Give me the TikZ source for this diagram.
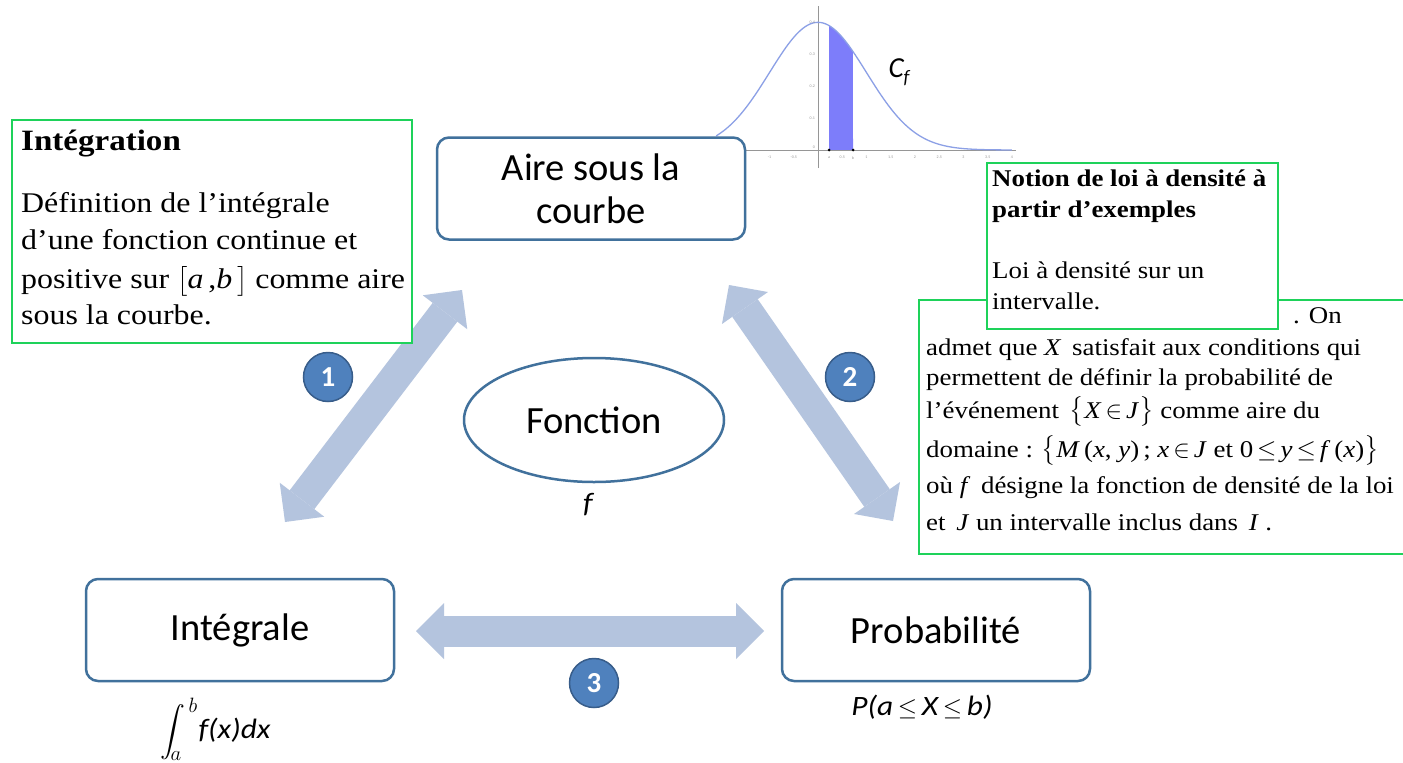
\documentclass[tikz,border=0pt]{standalone}
\usepackage{amsmath}
\usepackage{fontspec}
\setmainfont{Liberation Serif}
\newfontfamily\serifw[FakeStretch=1.12]{Liberation Serif}
\newfontfamily\calib{Carlito}
\newfontfamily\calibw[FakeStretch=1.12]{Carlito}
\usetikzlibrary{arrows.meta,shapes.geometric}
\definecolor{boxblue}{RGB}{65,113,156}
\definecolor{grn}{RGB}{30,210,90}
\definecolor{arrowblue}{RGB}{180,196,222}
\definecolor{numfill}{RGB}{79,129,189}
\definecolor{numdraw}{RGB}{56,93,138}
\definecolor{curveblue}{RGB}{140,160,230}
\definecolor{areablue}{RGB}{125,125,250}
\definecolor{axgray}{RGB}{150,150,150}
\begin{document}
\begin{tikzpicture}[x=1pt,y=-1pt,
  mainbox/.style={draw=boxblue, line width=2.5pt, rounded corners=12pt, fill=white,
    minimum width=308pt, minimum height=102pt, inner sep=0pt, align=center,
    font=\calib\fontsize{38.5}{43}\selectfont},
  gbox/.style={draw=grn, line width=1.6pt, fill=white, inner sep=0pt, anchor=north west},
  bigline/.style={arrowblue, line width=31pt,
    {Triangle[width=56pt,length=28pt,line width=0pt]}-{Triangle[width=56pt,length=28pt,line width=0pt]}},
  numc/.style={circle, fill=numfill, draw=numdraw, line width=1.5pt, minimum size=49pt,
    inner sep=0pt, text=white, font=\calib\bfseries\fontsize{29}{29}\selectfont},
  lbl/.style={anchor=base west, inner sep=0pt, font=\serifw\fontsize{28.5}{34}\selectfont},
  rtxt/.style={anchor=base west, inner sep=0pt, font=\serifw\fontsize{24}{30}\selectfont},
  mlbl/.style={inner sep=0pt, font=\calibw\itshape\fontsize{28}{30}\selectfont},
  tick/.style={inner sep=0pt, text=axgray, font=\calib\fontsize{4}{4}\selectfont}
]
\clip (0,0) rectangle (1403,763);
\fill[white] (0,0) rectangle (1403,763);

% ---- normal density plot ----
\fill[areablue] (829,150) -- plot[domain=0.23:0.72, samples=30]
  ({818+48.5*\x},{150-320*0.398942*exp(-\x*\x/2)}) -- (853,150) -- cycle;
\draw[axgray, line width=0.6pt] (745,150) -- (1016,150);
\draw[axgray, line width=0.6pt] (818,168) -- (818,6);
\draw[curveblue, line width=1.3pt] plot[domain=-2.1:4, samples=120]
  ({818+48.5*\x},{150-320*0.398942*exp(-\x*\x/2)});
\foreach \v/\t in {-1/-1,-0.5/-0.5,0.5/0.5,1/1,1.5/1.5,2/2,2.5/2.5,3/3,3.5/3.5,4/4}
  \node[tick] (tx\t) at ({818+48.5*\v},157) {\t};
\foreach \v/\t in {0.1/0.1,0.2/0.2,0.3/0.3,0.4/0.4}
  \node[tick, anchor=east] (ty\t) at (815,{150-320*\v}) {\t};
\node[tick, anchor=east] (ty0) at (815,147) {0};
\fill[black] (829,150) circle (1.5pt) (853,150) circle (1.5pt);
\node[tick] (pa) at (829,158) {a};
\node[tick] (pb) at (853,158) {b};
\node[inner sep=0pt, font=\calib\itshape\fontsize{29}{29}\selectfont] (cf) at (899,72)
  {C\raisebox{-6pt}{\fontsize{19}{19}\selectfont f}};

% ---- main nodes ----
\node[mainbox] (aire) at (591,188.5) {Aire sous la\\courbe};
\node[mainbox] (integ) at (240,630) {Intégrale};
\node[mainbox] (proba) at (936,630) {Probabilité};
\node[ellipse, draw=boxblue, line width=2.5pt, minimum width=260pt, minimum height=124pt,
  inner sep=0pt, font=\calib\fontsize{38.5}{43}\selectfont] (fonc) at (594,420) {Fonction};
\node[mlbl] (fl) at (588,505) {f};
\node[mlbl, anchor=base west, font=\calibw\itshape\fontsize{28}{30}\selectfont] (intl) at (160,738)
  {$\displaystyle\int_{\!a}^{\,b}$\kern1pt f(x)dx};
\node[mlbl] (pl) at (922,707) {P(a\,$\leq$\,X\,$\leq$\,b)};

% ---- big arrows ----
\coordinate (a1s) at (285,522);
\coordinate (a1e) at (462,290);
\coordinate (a2s) at (729,285);
\coordinate (a2e) at (893,521);
\coordinate (a3s) at (416,631);
\coordinate (a3e) at (764,631);
\draw[bigline] (a1s) -- (a1e);
\draw[bigline] (a2s) -- (a2e);
\draw[bigline] (a3s) -- (a3e);

\node[numc] (n1) at (328,377) {1};
\node[numc] (n2) at (850,377) {2};
\node[numc] (n3) at (594,683) {3};

% ---- left green box ----
\node[gbox, minimum width=400pt, minimum height=223pt] (ibox) at (11,119) {};
\node[lbl, font=\serifw\bfseries\fontsize{29.5}{34}\selectfont] (i0) at (21,150) {Intégration};
\node[lbl] (i1) at (21,212) {Définition de l’intégrale};
\node[lbl] (i2) at (21,249) {d’une fonction continue et};
\node[lbl] (i3) at (21,288) {positive sur $\bigl[$\textit{a}\,,\textit{b}\,$\bigr]$ comme aire};
\node[lbl] (i4) at (21,324) {sous la courbe.};

% ---- right lower green box ----
\node[gbox, minimum width=500pt, minimum height=254pt] (dbox) at (918,299) {};
\node[rtxt] (d0) at (1293,323) {. On};
\node[rtxt] (d1) at (926,355) {admet que \textit{X}\, satisfait aux conditions qui};
\node[rtxt] (d2) at (926,385) {permettent de définir la probabilité de};
\node[rtxt] (d3) at (926,418) {l’événement \,$\bigl\{$\textit{X}\,$\in$\,\textit{J}$\bigr\}$ comme aire du};
\node[rtxt] (d4) at (926,457) {domaine : $\bigl\{$\textit{M}\,(\textit{x}, \textit{y})\,; \textit{x}\,$\in$\,\textit{J} et 0\,$\leq$\,\textit{y}\,$\leq$\,\textit{f}\,(\textit{x})$\bigr\}$};
\node[rtxt] (d5) at (926,493) {où \textit{f}\, désigne la fonction de densité de la loi};
\node[rtxt] (d6) at (926,530) {et \,\textit{J} un intervalle inclus dans \,\textit{I} .};

% ---- right upper green box ----
\node[gbox, minimum width=291pt, minimum height=166pt] (nbox) at (986,162) {};
\node[rtxt, font=\serifw\bfseries\fontsize{24}{30}\selectfont] (nb1) at (992,186) {Notion de loi à densité à};
\node[rtxt, font=\serifw\bfseries\fontsize{24}{30}\selectfont] (nb2) at (992,217) {partir d’exemples};
\node[rtxt] (nb3) at (992,278) {Loi à densité sur un};
\node[rtxt] (nb4) at (992,309) {intervalle.};
\end{tikzpicture}
\end{document}
